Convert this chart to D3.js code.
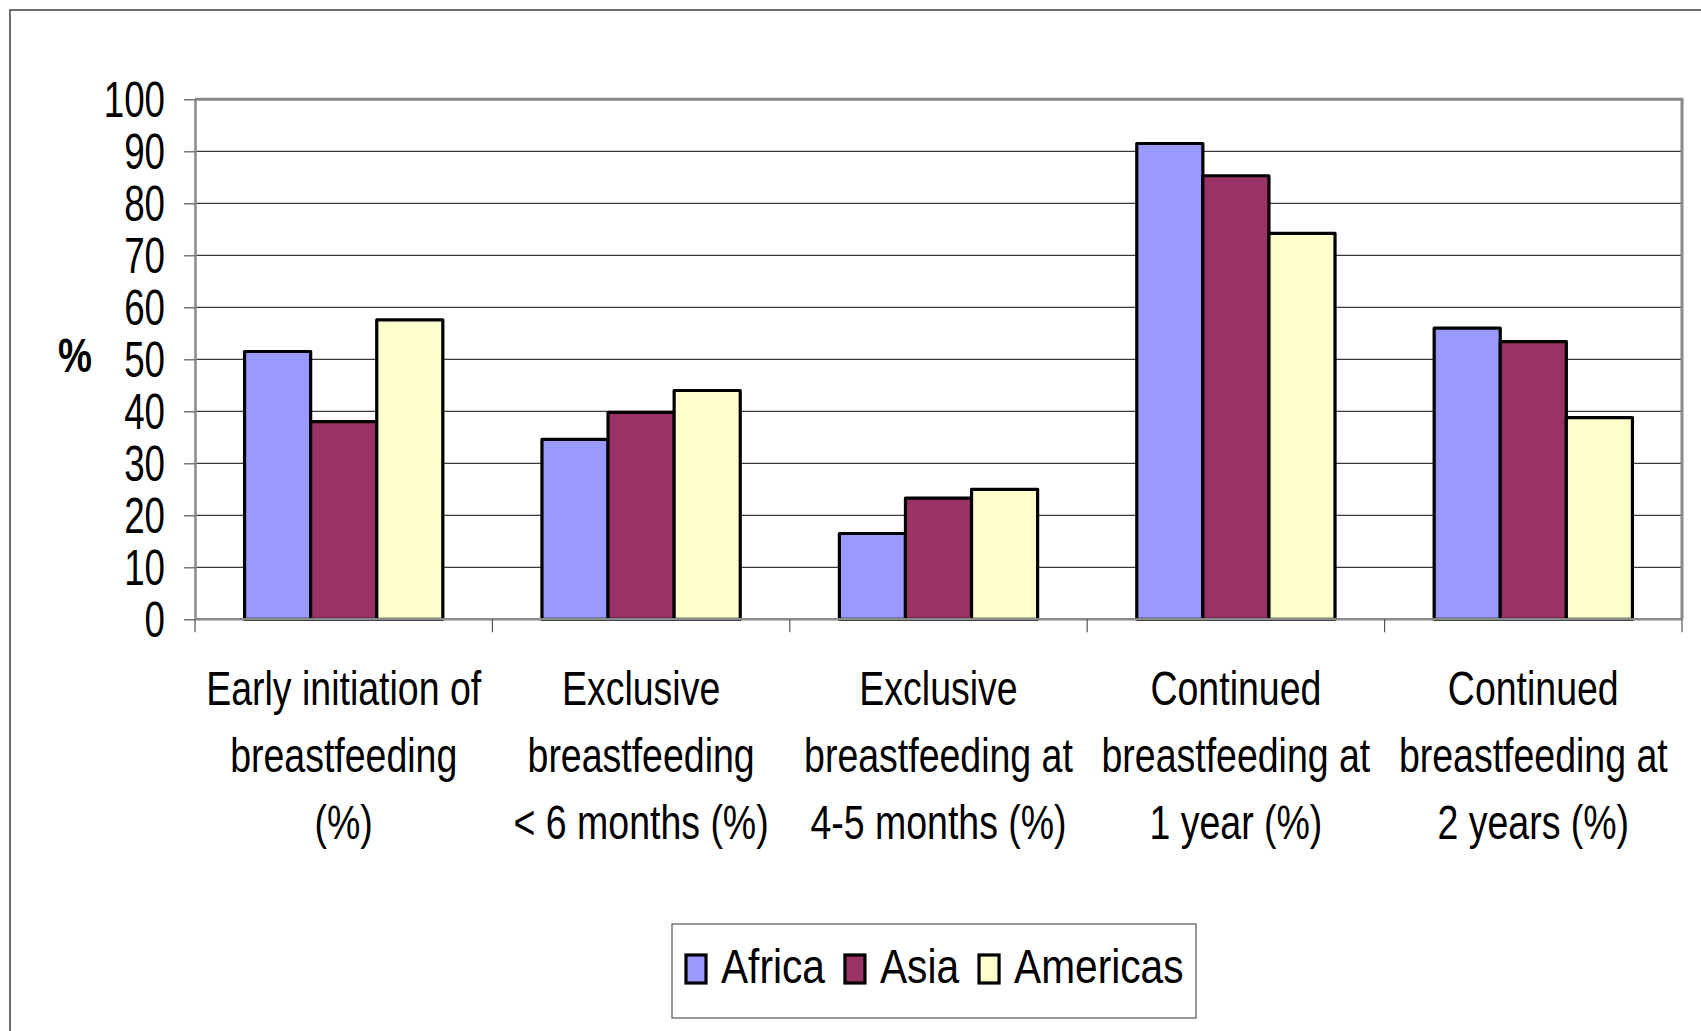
<!DOCTYPE html>
<html>
<head>
<meta charset="utf-8">
<script src="https://cdn.jsdelivr.net/npm/d3@7"></script>
<style>
  html, body { margin: 0; padding: 0; background: #fff; }
  svg { display: block; }
  text { font-family: "Liberation Sans", Arial, sans-serif; fill: #000; }
</style>
</head>
<body>
<script>
// ---- data ----
const categories = [
  "Early initiation of|breastfeeding|(%)",
  "Exclusive|breastfeeding|< 6 months (%)",
  "Exclusive|breastfeeding at|4-5 months (%)",
  "Continued|breastfeeding at|1 year (%)",
  "Continued|breastfeeding at|2 years (%)"
];
const seriesNames = ["Africa", "Asia", "Americas"];
const africa   = [51.5, 34.6, 16.5, 91.5, 56.0];
const asia     = [38.0, 39.8, 23.3, 85.3, 53.4];
const americas = [57.6, 44.0, 25.0, 74.2, 38.8];
const seriesColors = ["#9999FF", "#993366", "#FFFFCC"];
const yTicks = [0, 10, 20, 30, 40, 50, 60, 70, 80, 90, 100];
const yTitle = "%";

const seriesValues = [africa, asia, americas];

const W = 1701, H = 1031;
const plot = { left: 195, right: 1682, top: 99.3, bottom: 619.3 };
const SX = 0.765;     // horizontal condensing of axis text
const SXL = 0.83;     // legend text condensing
const FS = 49;

const svg = d3.select("body").append("svg").attr("width", W).attr("height", H);

// outer frame (extends beyond the picture on right/bottom)
svg.append("rect").attr("x", 10).attr("y", 10).attr("width", W + 20).attr("height", H + 20)
  .attr("fill", "none").attr("stroke", "#404040").attr("stroke-width", 1.5);

const y = d3.scaleLinear().domain([0, 100]).range([plot.bottom, plot.top]);
const x0 = d3.scaleBand().domain(categories).range([plot.left, plot.right]).paddingInner(0).paddingOuter(0);
const x1 = d3.scaleBand().domain(seriesNames).range([0, x0.bandwidth()]).paddingInner(0).paddingOuter(0.75);

// gridlines
svg.append("g").selectAll("line").data(yTicks.filter(d => d > 0 && d < 100)).join("line")
  .attr("x1", plot.left).attr("x2", plot.right)
  .attr("y1", d => y(d)).attr("y2", d => y(d))
  .attr("stroke", "#3a3a3a").attr("stroke-width", 1.2);

// plot area border (top & right)
svg.append("path")
  .attr("d", `M${plot.left},${y(100)}H${plot.right}V${y(0)}`)
  .attr("fill", "none").attr("stroke", "#8a8a8a").attr("stroke-width", 3);

// bars
const data = categories.map((c, i) => ({ c, vals: seriesNames.map((s, j) => ({ s, v: seriesValues[j][i], color: seriesColors[j] })) }));
const groups = svg.append("g").selectAll("g").data(data).join("g")
  .attr("transform", d => `translate(${x0(d.c)},0)`);
groups.selectAll("rect").data(d => d.vals).join("rect")
  .attr("x", d => x1(d.s)).attr("width", x1.bandwidth())
  .attr("y", d => y(d.v)).attr("height", d => y(0) - y(d.v))
  .attr("fill", d => d.color).attr("stroke", "#000").attr("stroke-width", 3.2)
  .attr("stroke-linejoin", "round");

// y axis
const yAxis = svg.append("g").attr("transform", `translate(${plot.left},0)`)
  .call(d3.axisLeft(y).tickValues(yTicks).tickSize(11).tickSizeOuter(0).tickFormat(d3.format("d")));
yAxis.select(".domain").attr("stroke", "#8a8a8a").attr("stroke-width", 2.5);
yAxis.selectAll(".tick line").attr("stroke", "#555").attr("stroke-width", 1.2);
yAxis.selectAll(".tick text")
  .attr("font-family", "Liberation Sans, Arial, sans-serif")
  .attr("font-size", FS).attr("fill", "#000")
  .attr("x", -30 / 0.75).attr("dy", "0.36em")
  .attr("transform", `scale(0.75,1)`);

// x axis line + separator ticks
const xAxis = svg.append("g").attr("transform", `translate(0,${plot.bottom})`);
xAxis.append("line").attr("x1", plot.left).attr("x2", plot.right).attr("y1", 0).attr("y2", 0)
  .attr("stroke", "#8a8a8a").attr("stroke-width", 2.5);
const sepTicks = categories.map(c => x0(c)).concat([x0(categories[categories.length - 1]) + x0.bandwidth()]);
xAxis.selectAll("line.sep").data(sepTicks).join("line").attr("class", "sep")
  .attr("x1", d => d).attr("x2", d => d).attr("y1", 0).attr("y2", 13)
  .attr("stroke", "#555").attr("stroke-width", 1.2);

// category labels
const baselines = [705, 772, 839];
const catLabels = svg.append("g").selectAll("text").data(categories).join("text")
  .attr("font-size", FS).attr("text-anchor", "middle")
  .attr("transform", `scale(${SX},1)`);
catLabels.each(function (c) {
  const cx = (x0(c) + x0.bandwidth() / 2) / SX;
  d3.select(this).selectAll("tspan").data(c.split("|")).join("tspan")
    .attr("x", cx).attr("y", (d, i) => baselines[i]).text(d => d);
});

// y title
svg.append("text").attr("font-size", FS).attr("font-weight", "bold")
  .attr("text-anchor", "middle")
  .attr("transform", `translate(75,372) scale(0.78,1)`)
  .text(yTitle);

// legend
const leg = svg.append("g");
leg.append("rect").attr("x", 672).attr("y", 924).attr("width", 524).attr("height", 94)
  .attr("fill", "#fff").attr("stroke", "#555").attr("stroke-width", 1.2);
let lx = 686;
seriesNames.forEach((s, j) => {
  leg.append("rect").attr("x", lx).attr("y", 955).attr("width", 20).attr("height", 28)
    .attr("fill", seriesColors[j]).attr("stroke", "#000").attr("stroke-width", 3.2);
  const t = leg.append("text").attr("font-size", FS)
    .attr("transform", `translate(${lx + 35},983) scale(${SXL},1)`).text(s);
  const w = t.node().getComputedTextLength() * SXL;
  lx = lx + 35 + w + 20;
});
</script>
</body>
</html>
